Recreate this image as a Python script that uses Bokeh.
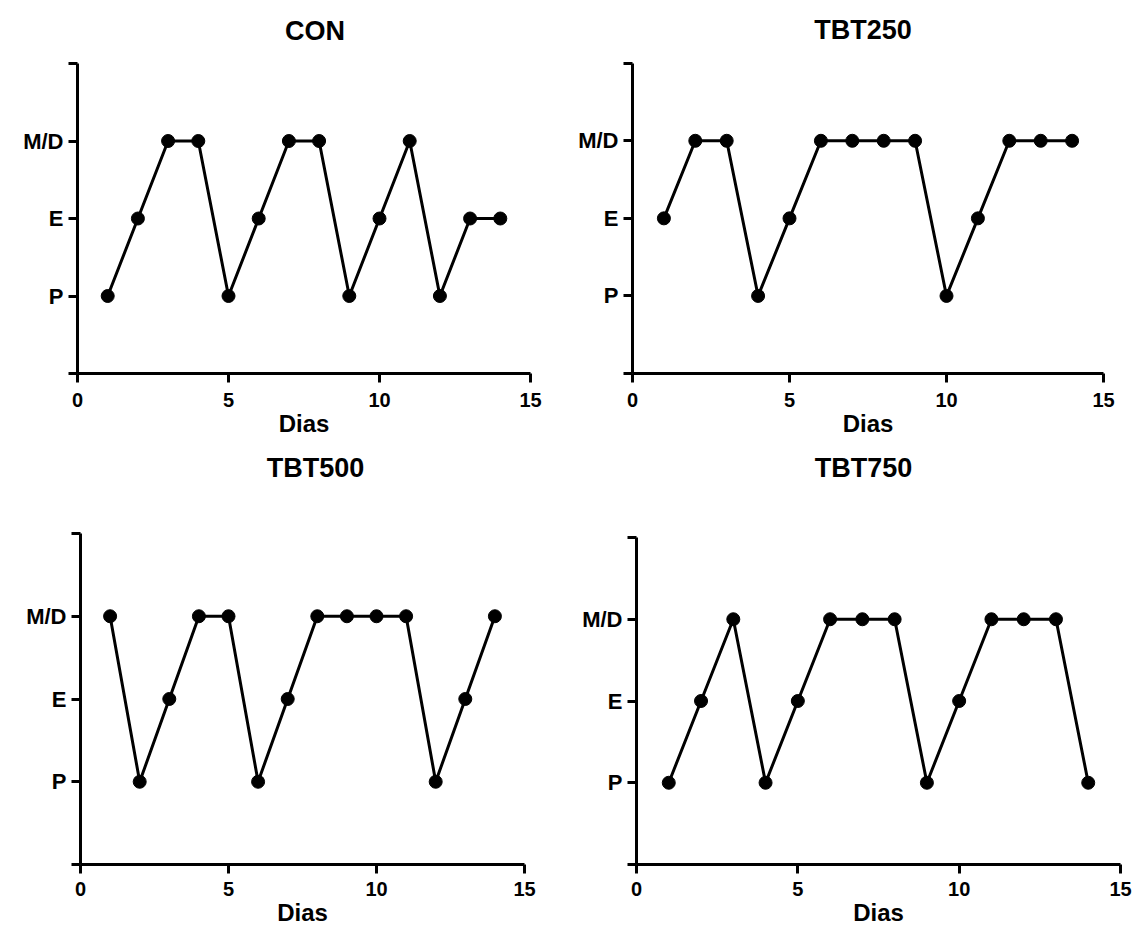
from bokeh.plotting import figure
from bokeh.layouts import column, row
from bokeh.models import FixedTicker, Label
from bokeh.embed import file_html
from bokeh.resources import INLINE

# ---- data ----
dias = list(range(1, 15))
y_labels = ["P", "E", "M/D"]          # estrous phases at 1, 2, 3
x_ticks = [0, 5, 10, 15]
titles = ["CON", "TBT250", "TBT500", "TBT750"]
con = [1, 2, 3, 3, 1, 2, 3, 3, 1, 2, 3, 1, 2, 2]
tbt250 = [2, 3, 3, 1, 2, 3, 3, 3, 3, 1, 2, 3, 3, 3]
tbt500 = [3, 1, 2, 3, 3, 1, 2, 3, 3, 3, 3, 1, 2, 3]
tbt750 = [1, 2, 3, 1, 2, 3, 3, 3, 1, 2, 3, 3, 3, 1]

FONT = "Liberation Sans"


def make(title, values, fig_x, fig_y, width, height,
         left, right, axis_top, axis_bot, frame_top, tx, ty,
         tick_stand, lstand):
    # y range extends above the axis so that the title sits inside the frame
    y_end = 4 + (axis_top - frame_top) * 4.0 / (axis_bot - axis_top)
    p = figure(width=width, height=height, x_range=(0, 15), y_range=(0, y_end),
               output_backend="svg", toolbar_location=None, title=None,
               min_border_left=left - fig_x,
               min_border_right=fig_x + width - right,
               min_border_top=frame_top - fig_y,
               min_border_bottom=fig_y + height - axis_bot)
    p.outline_line_color = None
    p.xgrid.visible = False
    p.ygrid.visible = False
    p.background_fill_color = "white"
    p.border_fill_color = "white"

    p.add_layout(Label(x=7.5, y=4, x_offset=tx, y_offset=ty, text=title,
                       text_align="center", text_baseline="middle",
                       text_font=FONT, text_font_size="27px",
                       text_font_style="bold", text_color="black"))

    p.xaxis.ticker = FixedTicker(ticks=x_ticks, minor_ticks=[])
    p.yaxis.ticker = FixedTicker(ticks=[0, 1, 2, 3, 4], minor_ticks=[])
    p.yaxis.bounds = (0, 4)
    overrides = {0: "", 4: ""}
    for i, lab in enumerate(y_labels):
        overrides[i + 1] = lab
    p.yaxis.major_label_overrides = overrides

    for ax in (p.xaxis[0], p.yaxis[0]):
        ax.axis_line_width = 3
        ax.axis_line_color = "black"
        ax.major_tick_line_width = 3
        ax.major_tick_line_color = "black"
        ax.major_tick_out = 9
        ax.major_tick_in = 0
        ax.minor_tick_line_color = None
        ax.major_label_text_font = FONT
        ax.major_label_text_font_style = "bold"
        ax.major_label_text_color = "black"
    p.xaxis.major_label_text_font_size = "20px"
    p.yaxis.major_label_text_font_size = "22px"
    p.xaxis.major_label_standoff = tick_stand
    p.yaxis.major_label_standoff = 5

    p.xaxis.axis_label = "Dias"
    p.xaxis.axis_label_text_font = FONT
    p.xaxis.axis_label_text_font_size = "24px"
    p.xaxis.axis_label_text_font_style = "bold"
    p.xaxis.axis_label_text_color = "black"
    p.xaxis.axis_label_standoff = lstand

    p.line(dias, values, line_width=3, line_color="black")
    p.scatter(dias, values, size=13, fill_color="black", line_color="black")
    return p


p1 = make(titles[0], con, 0, 0, 570, 448, 77, 530, 63, 373, 10, 11, 33, 10, 0)
p2 = make(titles[1], tbt250, 570, 0, 562, 448, 632, 1103, 63, 375, 10, -5, 33, 10, 0)
p3 = make(titles[2], tbt500, 0, 448, 570, 488, 80, 524, 533, 864, 450, 13, 66, 8, 0)
p4 = make(titles[3], tbt750, 570, 448, 562, 488, 636, 1120, 537, 864, 450, -15, 70, 8, 0)

layout = column(row(p1, p2, spacing=0), row(p3, p4, spacing=0), spacing=0)

with open("out.html", "w") as f:
    f.write(file_html(layout, INLINE))
